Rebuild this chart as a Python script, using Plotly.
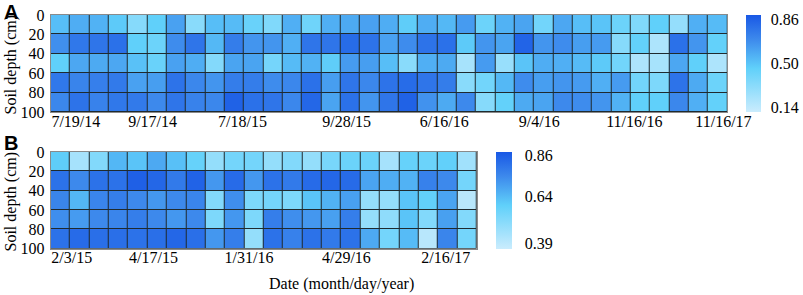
import plotly.graph_objects as go

W, H = 803, 295
SERIF = "Liberation Serif"
SANS = "Liberation Sans"

# ---------------- data ----------------
depth_centers = [10, 30, 50, 70, 90]
depth_ticks = [0, 20, 40, 60, 80, 100]

# Panel A: 35 sampling dates, 5 depth layers
a_cols = list(range(35))
a_tick_pos = [0.8, 4.77, 9.42, 14.81, 19.86, 24.77, 29.69, 34.3]
a_tick_text = ["7/19/14", "9/17/14", "7/18/15", "9/28/15", "6/16/16", "9/4/16", "11/16/16", "11/16/17"]
a_d0_20 = [0.52, 0.58, 0.56, 0.48, 0.33, 0.46, 0.62, 0.32, 0.52, 0.53, 0.43, 0.35, 0.57, 0.41, 0.57, 0.59, 0.62, 0.58,
           0.47, 0.58, 0.54, 0.64, 0.42, 0.56, 0.61, 0.40, 0.60, 0.52, 0.50, 0.42, 0.35, 0.46, 0.28, 0.57, 0.53]
a_d20_40 = [0.68, 0.77, 0.78, 0.80, 0.46, 0.42, 0.69, 0.78, 0.54, 0.75, 0.66, 0.66, 0.57, 0.78, 0.78, 0.82, 0.79, 0.62,
            0.69, 0.79, 0.80, 0.48, 0.66, 0.61, 0.85, 0.66, 0.69, 0.63, 0.64, 0.33, 0.45, 0.20, 0.80, 0.66, 0.45]
a_d40_60 = [0.46, 0.60, 0.59, 0.60, 0.51, 0.43, 0.62, 0.58, 0.34, 0.61, 0.61, 0.39, 0.53, 0.56, 0.47, 0.64, 0.63, 0.52,
            0.32, 0.57, 0.59, 0.22, 0.64, 0.27, 0.50, 0.58, 0.57, 0.53, 0.48, 0.40, 0.20, 0.22, 0.60, 0.46, 0.20]
a_d60_80 = [0.77, 0.72, 0.74, 0.76, 0.62, 0.63, 0.79, 0.71, 0.66, 0.75, 0.75, 0.69, 0.71, 0.80, 0.63, 0.78, 0.71, 0.79,
            0.82, 0.78, 0.75, 0.32, 0.40, 0.54, 0.69, 0.63, 0.66, 0.64, 0.57, 0.64, 0.40, 0.36, 0.79, 0.59, 0.42]
a_d80_100 = [0.71, 0.79, 0.73, 0.77, 0.76, 0.70, 0.78, 0.73, 0.71, 0.86, 0.80, 0.78, 0.71, 0.84, 0.61, 0.80, 0.66, 0.78,
             0.86, 0.67, 0.59, 0.70, 0.33, 0.45, 0.59, 0.61, 0.70, 0.69, 0.66, 0.56, 0.46, 0.46, 0.71, 0.57, 0.45]
a_cbar_ticks = [0.14, 0.50, 0.86]

# Panel B: 22 sampling dates, 5 depth layers
b_cols = list(range(22))
b_tick_pos = [0.59, 4.81, 9.74, 14.77, 19.9]
b_tick_text = ["2/3/15", "4/17/15", "1/31/16", "4/29/16", "2/16/17"]
b_d0_20 = [0.60, 0.44, 0.52, 0.65, 0.62, 0.68, 0.63, 0.58, 0.48, 0.55, 0.55, 0.48, 0.52, 0.48, 0.54, 0.57, 0.57,
           0.44, 0.58, 0.57, 0.59, 0.45]
b_d20_40 = [0.81, 0.75, 0.81, 0.81, 0.86, 0.84, 0.79, 0.85, 0.72, 0.83, 0.72, 0.81, 0.79, 0.83, 0.84, 0.83, 0.69,
            0.67, 0.66, 0.77, 0.75, 0.55]
b_d40_60 = [0.76, 0.65, 0.76, 0.78, 0.75, 0.72, 0.75, 0.76, 0.52, 0.74, 0.53, 0.55, 0.53, 0.62, 0.66, 0.70, 0.48,
            0.48, 0.62, 0.59, 0.69, 0.40]
b_d60_80 = [0.74, 0.71, 0.75, 0.76, 0.78, 0.75, 0.72, 0.75, 0.53, 0.72, 0.53, 0.78, 0.74, 0.72, 0.70, 0.78, 0.48,
            0.49, 0.62, 0.52, 0.70, 0.52]
b_d80_100 = [0.81, 0.83, 0.82, 0.82, 0.81, 0.82, 0.84, 0.82, 0.72, 0.78, 0.48, 0.81, 0.77, 0.81, 0.79, 0.81, 0.68,
             0.55, 0.64, 0.40, 0.76, 0.55]
b_cbar_ticks = [0.39, 0.64, 0.86]

# ---------------- styling ----------------
cscale = [[0.0, "#caecfd"], [0.45, "#60d0fa"], [0.75, "#3d89ec"], [1.0, "#1958e5"]]


def px_x(v):
    return v / W


def px_y(v):
    return 1 - v / H


fig = go.Figure()

fig.add_trace(go.Heatmap(
    x=a_cols, y=depth_centers,
    z=[a_d0_20, a_d20_40, a_d40_60, a_d60_80, a_d80_100],
    zmin=0.10, zmax=0.90, colorscale=cscale, xgap=1, ygap=1,
    xaxis="x", yaxis="y",
    colorbar=dict(
        x=px_x(746), xanchor="left", xref="paper", xpad=0, ypad=0,
        y=px_y(63.3), yanchor="middle", len=96.7 / H, lenmode="fraction",
        thickness=15, outlinewidth=0,
        tickvals=a_cbar_ticks, ticktext=[f"{v:.2f}" for v in a_cbar_ticks],
        ticks="outside", ticklen=7, tickcolor="rgba(0,0,0,0)",
        tickfont=dict(family=SERIF, size=16, color="black"),
    ),
))

fig.add_trace(go.Heatmap(
    x=b_cols, y=depth_centers,
    z=[b_d0_20, b_d20_40, b_d40_60, b_d60_80, b_d80_100],
    zmin=0.36, zmax=0.88, colorscale=cscale, xgap=1, ygap=1,
    xaxis="x2", yaxis="y2",
    colorbar=dict(
        x=px_x(495.5), xanchor="left", xref="paper", xpad=0, ypad=0,
        y=px_y(200.5), yanchor="middle", len=97 / H, lenmode="fraction",
        thickness=16, outlinewidth=0,
        tickvals=b_cbar_ticks, ticktext=[f"{v:.2f}" for v in b_cbar_ticks],
        ticks="outside", ticklen=10, tickcolor="rgba(0,0,0,0)",
        tickfont=dict(family=SERIF, size=16, color="black"),
    ),
))

axis_common = dict(showgrid=False, zeroline=False, showline=True, mirror=True,
                   linecolor="#8a8a8a", linewidth=1, automargin=False,
                   tickfont=dict(family=SERIF, size=16, color="black"))

fig.update_layout(
    width=W, height=H,
    margin=dict(l=0, r=0, t=0, b=0, pad=0, autoexpand=False),
    paper_bgcolor="white", plot_bgcolor="#1f2a2e",
    showlegend=False,
    xaxis=dict(domain=[px_x(50.7), px_x(727.3)], anchor="y", range=[-0.5, 34.5],
               tickvals=a_tick_pos, ticktext=a_tick_text, ticks="", ticklabelstandoff=-5,
               **axis_common),
    yaxis=dict(domain=[px_y(112), px_y(15)], anchor="x", range=[100, 0],
               tickvals=depth_ticks, ticktext=[str(v) for v in depth_ticks],
               ticks="outside", ticklen=2, tickcolor="rgba(0,0,0,0)", **axis_common),
    xaxis2=dict(domain=[px_x(50.7), px_x(476.7)], anchor="y2", range=[-0.5, 21.5],
                tickvals=b_tick_pos, ticktext=b_tick_text, ticks="", ticklabelstandoff=-6,
                **axis_common),
    yaxis2=dict(domain=[px_y(248.7), px_y(152)], anchor="x2", range=[100, 0],
                tickvals=depth_ticks, ticktext=[str(v) for v in depth_ticks],
                ticks="outside", ticklen=2, tickcolor="rgba(0,0,0,0)", **axis_common),
    annotations=[
        dict(text="<b>A</b>", x=px_x(2), y=px_y(-1), xref="paper", yref="paper",
             xanchor="left", yanchor="top", showarrow=False,
             font=dict(family=SANS, size=20, color="black")),
        dict(text="<b>B</b>", x=px_x(2), y=px_y(129.5), xref="paper", yref="paper",
             xanchor="left", yanchor="top", showarrow=False,
             font=dict(family=SANS, size=20, color="black")),
        dict(text="Soil depth (cm)", x=px_x(10), y=px_y(64.5), xref="paper", yref="paper",
             xanchor="center", yanchor="middle", textangle=-90, showarrow=False,
             font=dict(family=SERIF, size=16, color="black")),
        dict(text="Soil depth (cm)", x=px_x(10), y=px_y(201.5), xref="paper", yref="paper",
             xanchor="center", yanchor="middle", textangle=-90, showarrow=False,
             font=dict(family=SERIF, size=16, color="black")),
        dict(text="Date (month/day/year)", x=px_x(341), y=px_y(284), xref="paper", yref="paper",
             xanchor="center", yanchor="middle", showarrow=False,
             font=dict(family=SERIF, size=16, color="black")),
    ],
)

fig.write_html(
    "out.html",
    config={"displayModeBar": False},
    post_script="document.body.style.margin='0';document.body.style.padding='0';",
)
